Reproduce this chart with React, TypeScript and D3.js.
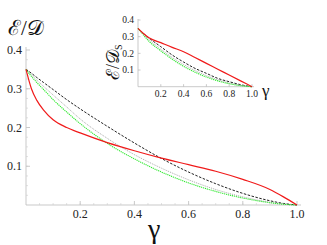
import * as d3 from 'd3'

const gammas = [0, 0.02, 0.04, 0.065, 0.1, 0.15, 0.2, 0.3, 0.4, 0.5, 0.6, 0.7, 0.8, 0.9, 0.95, 1.0]
const mainRed = [0.35, 0.3, 0.27, 0.245, 0.22, 0.2, 0.186, 0.161, 0.14, 0.121, 0.104, 0.087, 0.066, 0.04, 0.021, 0]
const mainBlack = [0.35, 0.34, 0.329, 0.316, 0.298, 0.272, 0.248, 0.203, 0.16, 0.12, 0.085, 0.055, 0.03, 0.011, 0.004, 0]
const mainGray = [0.35, 0.336, 0.322, 0.306, 0.284, 0.253, 0.222, 0.172, 0.13, 0.095, 0.065, 0.04, 0.021, 0.007, 0.002, 0]
const mainGreen = [0.35, 0.332, 0.316, 0.298, 0.272, 0.24, 0.21, 0.159, 0.119, 0.085, 0.057, 0.035, 0.018, 0.006, 0.002, 0]

const insetGammas = [0, 0.05, 0.1, 0.2, 0.3, 0.4, 0.5, 0.6, 0.7, 0.8, 0.9, 1.0]
const insetRed = [0.35, 0.318, 0.292, 0.264, 0.236, 0.21, 0.175, 0.14, 0.105, 0.07, 0.035, 0]
const insetBlack = [0.35, 0.318, 0.29, 0.24, 0.19, 0.148, 0.11, 0.08, 0.05, 0.03, 0.012, 0]
const insetGray = [0.35, 0.313, 0.28, 0.225, 0.175, 0.133, 0.097, 0.066, 0.042, 0.022, 0.008, 0]
const insetGreen = [0.35, 0.308, 0.27, 0.215, 0.165, 0.122, 0.087, 0.058, 0.035, 0.018, 0.006, 0]

const xTicks = [0.2, 0.4, 0.6, 0.8, 1.0]
const yTicks = [0.1, 0.2, 0.3, 0.4]

const series = [
  { name: 'black', color: '#222', dash: '2.5,1.5', width: 1 },
  { name: 'gray', color: '#aaa', dash: '1,1', width: 1 },
  { name: 'green', color: '#2ee82e', dash: '1.2,0.8', width: 1.1 },
  { name: 'red', color: '#f01a1a', dash: null, width: 1.2 },
]

const serif = { fontFamily: "'Times New Roman', 'Liberation Serif', 'DejaVu Serif', serif" }

function Panel({ xs, values, x0, x1, y0, y1, tickSize, labelSize, main }: any) {
  const x = d3.scaleLinear().domain([0, 1]).range([x0, x1])
  const y = d3.scaleLinear().domain([0, 0.4]).range([y0, y1])
  const line = d3
    .line<number>()
    .x((_, i) => x(xs[i]))
    .y(d => y(d))
    .curve(d3.curveMonotoneX)
  return (
    <g>
      <line x1={x0} x2={x1 + (main ? 4 : 2)} y1={y0} y2={y0} stroke="#bbb" strokeWidth={0.8} />
      <line x1={x0} x2={x0} y1={y0} y2={y1 - (main ? 3 : 1)} stroke="#bbb" strokeWidth={0.8} />
      {xTicks.map(t => (
        <g key={'x' + t}>
          <line x1={x(t)} x2={x(t)} y1={y0} y2={y0 - tickSize} stroke="#bbb" strokeWidth={0.8} />
          <text x={x(t)} y={y0 + labelSize + 1} textAnchor="middle" fontSize={labelSize} style={serif} fill="#222">
            {t.toFixed(1)}
          </text>
        </g>
      ))}
      {main &&
        d3.range(0.05, 1, 0.05).map(t => (
          <line key={'mx' + t} x1={x(t)} x2={x(t)} y1={y0} y2={y0 - tickSize / 2} stroke="#ccc" strokeWidth={0.6} />
        ))}
      {yTicks.map(t => (
        <g key={'y' + t}>
          <line x1={x0} x2={x0 + tickSize} y1={y(t)} y2={y(t)} stroke="#bbb" strokeWidth={0.8} />
          <text x={x0 - 4} y={y(t) + labelSize * 0.35} textAnchor="end" fontSize={labelSize} style={serif} fill="#222">
            {t.toFixed(1)}
          </text>
        </g>
      ))}
      {main &&
        d3.range(0.025, 0.4, 0.025).map(t => (
          <line key={'my' + t} x1={x0} x2={x0 + tickSize / 2} y1={y(t)} y2={y(t)} stroke="#ccc" strokeWidth={0.6} />
        ))}
      {series.map(s => (
        <path
          key={s.name}
          d={line(values[s.name]) || ''}
          fill="none"
          stroke={s.color}
          strokeWidth={s.width}
          strokeDasharray={s.dash || undefined}
        />
      ))}
    </g>
  )
}

export default function App() {
  return (
    <svg width={327} height={245} style={{ position: 'absolute', left: 0, top: 0, background: '#fff' }}>
      <Panel
        xs={gammas}
        values={{ red: mainRed, black: mainBlack, gray: mainGray, green: mainGreen }}
        x0={26}
        x1={297}
        y0={205}
        y1={50}
        tickSize={4}
        labelSize={12}
        main
      />
      <Panel
        xs={insetGammas}
        values={{ red: insetRed, black: insetBlack, gray: insetGray, green: insetGreen }}
        x0={138}
        x1={252}
        y0={86.7}
        y1={20}
        tickSize={2.5}
        labelSize={9.5}
        main={false}
      />
      <text x={8} y={35} fontSize={21} style={serif} fill="#111">
        ℰ/𝒟
      </text>
      <text x={148} y={238} fontSize={28} style={serif} fill="#111">
        γ
      </text>
      <text x={262} y={96} fontSize={17} style={serif} fill="#111">
        γ
      </text>
      <text transform="translate(119,80) rotate(-90)" fontSize={18} style={serif} fill="#111">
        ℰ/𝒟
        <tspan fontSize={10} dy={3}>
          S
        </tspan>
      </text>
    </svg>
  )
}
